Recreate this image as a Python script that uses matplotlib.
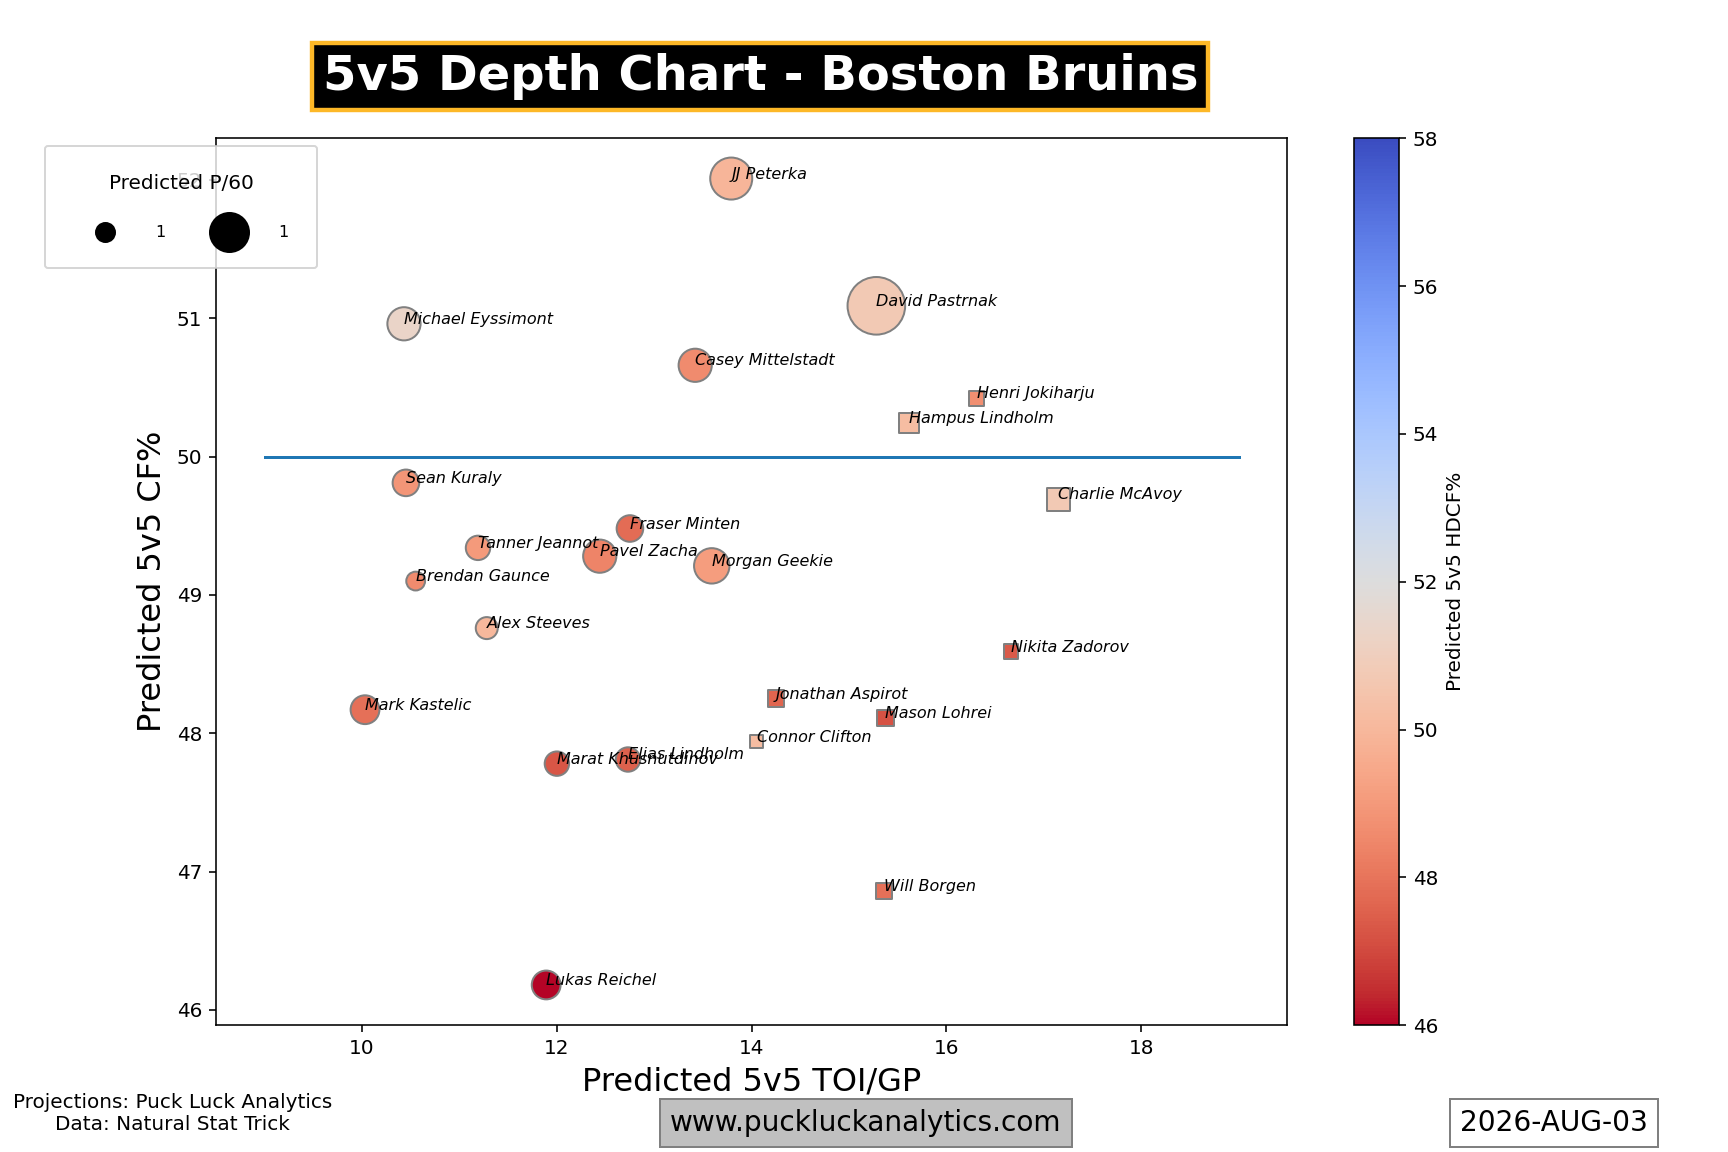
import numpy as np
import matplotlib
matplotlib.use('Agg')
import matplotlib.pyplot as plt
from matplotlib.lines import Line2D

team = 'Boston Bruins'
date_str = '2026-AUG-03'

# forwards (circles)
f_names = ['JJ Peterka', 'David Pastrnak', 'Michael Eyssimont', 'Casey Mittelstadt', 'Sean Kuraly',
           'Fraser Minten', 'Tanner Jeannot', 'Pavel Zacha', 'Morgan Geekie', 'Brendan Gaunce',
           'Alex Steeves', 'Mark Kastelic', 'Elias Lindholm', 'Marat Khusnutdinov', 'Lukas Reichel']
f_toi = [13.79, 15.28, 10.43, 13.42, 10.45, 12.75, 11.19, 12.44, 13.59, 10.55, 11.28, 10.03, 12.73, 12.00, 11.89]
f_cf = [52.01, 51.09, 50.96, 50.66, 49.81, 49.48, 49.34, 49.28, 49.21, 49.10, 48.76, 48.17, 47.81, 47.78, 46.18]
f_hdcf = [49.9, 50.7, 51.3, 48.6, 48.9, 47.8, 49.0, 48.4, 49.1, 48.6, 50.0, 47.9, 47.5, 47.3, 46.0]
f_p60 = [2.10, 2.88, 1.66, 1.66, 1.33, 1.33, 1.22, 1.66, 1.77, 0.94, 1.10, 1.44, 1.22, 1.22, 1.44]

# defense (squares)
d_names = ['Henri Jokiharju', 'Hampus Lindholm', 'Charlie McAvoy', 'Nikita Zadorov', 'Jonathan Aspirot',
           'Mason Lohrei', 'Connor Clifton', 'Will Borgen']
d_toi = [16.31, 15.62, 17.15, 16.66, 14.25, 15.37, 14.05, 15.36]
d_cf = [50.42, 50.24, 49.69, 48.59, 48.25, 48.11, 47.94, 46.86]
d_hdcf = [48.7, 50.2, 50.7, 47.4, 47.6, 47.2, 50.2, 47.9]
d_p60 = [0.78, 1.00, 1.11, 0.72, 0.84, 0.84, 0.67, 0.78]

sz = lambda p: (np.array(p)*10)**2

fig, ax = plt.subplots(figsize=(12, 8), dpi=144)
sc = ax.scatter(f_toi, f_cf, c=f_hdcf, s=sz(f_p60), cmap='coolwarm_r', vmin=46, vmax=58,
                marker='o', edgecolors='grey', linewidths=1)
ax.scatter(d_toi, d_cf, c=d_hdcf, s=sz(d_p60), cmap='coolwarm_r', vmin=46, vmax=58,
           marker='s', edgecolors='grey', linewidths=1)
for n, x, y in zip(f_names + d_names, f_toi + d_toi, f_cf + d_cf):
    ax.text(x, y, n, fontsize=8, style='italic')
ax.plot([9, 19], [50, 50])

cbar = fig.colorbar(sc, ax=ax)
cbar.set_label('Predicted 5v5 HDCF%')

ax.set_xlabel('Predicted 5v5 TOI/GP', fontsize=16)
ax.set_ylabel('Predicted 5v5 CF%', fontsize=16)
ax.set_title('5v5 Depth Chart - ' + team, fontsize=24, fontweight='bold', color='white', pad=24, x=0.508,
             bbox=dict(facecolor='black', edgecolor='#FDB827', linewidth=2.2, pad=5))

hnd = [Line2D([], [], marker='o', color='black', linestyle='', markersize=9.5),
       Line2D([], [], marker='o', color='black', linestyle='', markersize=19.5)]
ax.legend(hnd, ['1', '1'], title='Predicted P/60', title_fontsize=10, fontsize=8, ncol=2,
          loc='upper left', bbox_to_anchor=(0.0215, 0.880), bbox_transform=fig.transFigure,
          borderpad=1.75, handlelength=4, handletextpad=1.1, labelspacing=2)

fig.text(0.100, 0.033, 'Projections: Puck Luck Analytics\nData: Natural Stat Trick', fontsize=10,
         ha='center', va='center', multialignment='center')
fig.text(0.501, 0.025, 'www.puckluckanalytics.com', fontsize=14, ha='center', va='center',
         bbox=dict(facecolor='silver', edgecolor='grey', pad=5))
fig.text(0.8995, 0.025, date_str, fontsize=14, ha='center', va='center',
         bbox=dict(facecolor='white', edgecolor='grey', pad=5))

fig.savefig('out.png')
